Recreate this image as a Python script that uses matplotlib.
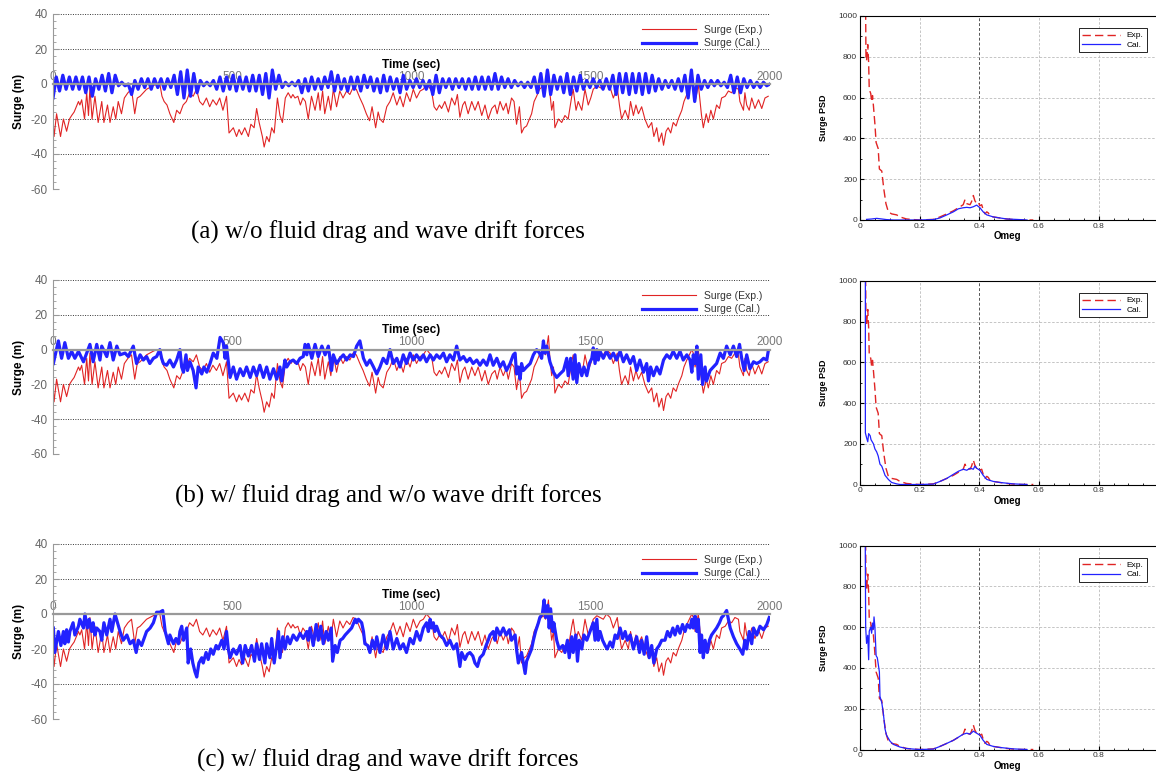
import numpy as np
import matplotlib.pyplot as plt
from matplotlib.ticker import MultipleLocator

plt.rcParams['font.family'] = ['Liberation Sans', 'DejaVu Sans']
plt.rcParams['axes.unicode_minus'] = False

# Surge (Exp.) time history (same in all three cases): (time [s], surge [m])
exp_pts = [(0,-20),(3,-30),(10,-17),(21,-30),(29,-20),(38,-27),(46,-20),(52,-18),(59,-16),(71,-10),
           (75,-12),(80,-9),(88,-20),(94,-5),(99,-18),(103,-2),(109,-20),(117,-7),(126,-22),(136,-10),
           (142,-22),(152,-12),(159,-22),(168,-13),(175,-20),(182,-10),(191,-17),(199,-8),(209,-5),(219,-3),
           (228,-17),(235,-8),(243,-7),(252,-5),(261,-3),(270,-2),(279,-1),(289,0),(298,0),(304,-7),
           (310,-10),(318,-12),(326,-17),(337,-22),(345,-15),(354,-17),(363,-12),(372,-10),(381,-5),(391,-7),
           (400,-3),(409,-10),(418,-12),(428,-8),(437,-13),(446,-9),(456,-12),(465,-8),(474,-15),(484,-7),
           (491,-28),(503,-25),(512,-30),(519,-26),(526,-29),(535,-25),(545,-30),(552,-23),(561,-25),(568,-14),
           (575,-22),(584,-30),(589,-36),(596,-30),(603,-33),(610,-25),(617,-28),(626,-8),(633,-18),(640,-22),
           (648,-8),(656,-5),(664,-8),(669,-6),(675,-8),(683,-7),(690,-12),(697,-8),(704,-10),(712,-20),
           (721,-7),(731,-15),(740,-5),(745,-15),(752,-4),(758,-17),(768,-7),(775,-15),(782,-3),(791,-13),
           (800,-4),(809,-8),(819,-4),(828,-6),(837,-2),(846,-3),(856,-8),(865,-12),(874,-17),(883,-21),
           (890,-13),(900,-25),(907,-16),(912,-20),(921,-22),(931,-13),(940,-10),(949,-5),(959,-12),(968,-7),
           (977,-13),(986,-5),(996,-10),(1005,-3),(1014,-8),(1024,-4),(1033,-3),(1042,0),(1050,-2),(1056,-4),
           (1063,-13),(1070,-15),(1078,-12),(1084,-14),(1093,-10),(1103,-16),(1112,-8),(1121,-12),(1128,-6),(1135,-19),
           (1143,-12),(1149,-10),(1158,-17),(1168,-10),(1177,-15),(1186,-10),(1196,-18),(1205,-12),(1214,-20),(1224,-14),
           (1233,-12),(1239,-17),(1247,-10),(1256,-15),(1264,-11),(1270,-17),(1279,-8),(1286,-10),(1293,-23),(1301,-13),
           (1307,-28),(1314,-25),(1321,-24),(1329,-20),(1335,-17),(1342,-10),(1349,-7),(1357,-3),(1368,-1),(1374,-3),
           (1382,8),(1386,-5),(1391,-15),(1396,-10),(1400,-25),(1410,-20),(1419,-22),(1428,-18),(1437,-20),(1447,-7),
           (1451,-3),(1459,-15),(1465,-10),(1475,-15),(1484,-3),(1493,-12),(1500,-8),(1507,-3),(1517,-1),(1526,-2),
           (1535,-3),(1544,0),(1554,-2),(1563,-8),(1574,-2),(1580,-12),(1586,-20),(1596,-15),(1605,-20),(1611,-10),
           (1619,-18),(1626,-12),(1633,-17),(1642,-13),(1651,-20),(1661,-25),(1670,-22),(1676,-30),(1684,-25),(1690,-33),
           (1698,-28),(1703,-35),(1710,-27),(1716,-25),(1723,-28),(1730,-22),(1738,-24),(1744,-20),(1754,-15),(1760,-10),
           (1768,-6),(1775,-3),(1782,0),(1786,-2),(1791,-10),(1796,-5),(1800,0),(1805,-10),(1809,-18),(1814,-25),
           (1822,-17),(1828,-22),(1835,-15),(1842,-20),(1851,-12),(1859,-14),(1865,-8),(1875,-7),(1884,-4),(1893,-5),
           (1902,-2),(1912,-3),(1916,-10),(1926,-15),(1930,-5),(1935,-12),(1942,-15),(1949,-8),(1958,-14),(1968,-9),
           (1977,-14),(1986,-8),(1995,-7)]

# Surge (Cal.) case (a): samples evenly spread over 0-2000 s
cal_a = [-8,4,-4,5,-3,4,-3,4,-3,4,  -5,4,-7,3,-3,5,-4,6,-5,5,
         -1,1,-1,0,-6,2,-3,3,-2,3,  -3,3,-2,3,-3,3,-2,5,-6,7,
         -8,8,-7,6,-5,2,-1,1,-1,2,  -3,4,-4,4,-3,5,-4,4,-3,4,
         -4,5,-4,5,-6,6,-8,8,-3,5,  -2,1,-1,1,-1,2,-5,3,-4,4,
         -3,3,-3,4,-2,7,-4,5,-3,3,  -4,4,-3,4,-4,5,-2,4,-4,3,
         -5,5,-4,4,-3,3,-5,5,-3,2,  -2,3,-2,2,-3,2,-6,5,-5,3,
         -2,3,-3,3,-2,3,-3,3,-3,4,  -3,4,-3,4,-3,6,-3,4,-2,3,
         -2,2,-1,1,-2,1,-2,4,-5,6,  -7,8,-6,5,-3,4,-5,6,-6,4,
         -4,5,-3,2,-2,3,-2,2,-3,3,  -3,5,-6,6,-5,6,-6,6,-5,6,
         -6,6,-5,5,-4,3,-3,2,-2,2,  -3,3,-4,5,-8,8,-10,5,-3,2,
         -2,2,-1,2,-1,1,-2,5,-5,4,  -5,3,-2,2,-2,1,-2,1,-1,0]

# Surge (Cal.) case (b): (time [s], surge [m])
cal_b_pts = [(1,-8),(15,5),(24,-5),(33,4),(43,-5),(52,-1),(61,-5),(71,-1),(85,-7),(94,-2),(103,3),(112,-7),
             (122,3),(131,-6),(136,2),(150,-4),(159,4),(168,-6),(178,2),(187,-3),(201,-2),(210,-4),(224,2),
             (233,-8),(243,-3),(252,-6),(261,-4),(270,-8),(280,-5),(289,-4),(298,0),(303,-5),(308,-8),(317,-9),
             (326,-6),(336,-10),(345,-6),(354,0),(359,-10),(364,-13),(371,-3),(375,-12),(382,-7),(391,-12),
             (399,-22),(405,-10),(415,-14),(421,-10),(429,-13),(438,-8),(447,-2),(457,-5),(466,7),(475,4),
             (480,-5),(484,2),(494,-16),(503,-10),(512,-17),(522,-11),(531,-15),(540,-10),(550,-16),(559,-10),
             (568,-15),(577,-9),(587,-16),(596,-10),(605,-17),(615,-11),(624,-17),(633,-10),(638,-18),(647,-6),
             (652,-10),(661,-7),(670,-6),(680,-8),(689,-5),(698,-4),(703,3),(708,-3),(712,3),(722,-5),(731,3),
             (740,-4),(750,2),(759,-3),(768,2),(777,-12),(782,-3),(791,-8),(801,-5),(810,-3),(819,-6),(829,-3),
             (838,-4),(847,2),(856,5),(866,-5),(875,-9),(884,-6),(894,-10),(903,-14),(912,-10),(921,-5),(931,-8),
             (940,0),(949,-8),(959,-5),(968,-10),(977,-3),(986,-8),(996,-2),(1005,-6),(1014,-3),(1024,-6),
             (1033,-3),(1042,-7),(1052,-3),(1061,-6),(1070,-3),(1079,-5),(1089,-2),(1098,-7),(1107,-3),(1117,-6),
             (1126,2),(1135,-6),(1145,-4),(1154,-7),(1163,-5),(1172,-8),(1182,-6),(1191,-9),(1200,-6),(1210,-9),
             (1219,-3),(1228,-9),(1238,-5),(1247,-10),(1256,-7),(1265,-12),(1275,-8),(1284,-3),(1289,-2),(1293,-14),
             (1298,-10),(1303,-17),(1307,-8),(1312,-12),(1321,-10),(1331,-8),(1340,-3),(1349,0),(1357,-2),(1363,-5),
             (1368,5),(1372,-2),(1377,2),(1382,-3),(1386,-7),(1396,-13),(1405,-16),(1414,-14),(1424,-12),(1433,-5),
             (1437,-15),(1444,-5),(1451,-17),(1456,-3),(1461,-19),(1467,-8),(1475,-15),(1481,-10),(1489,-15),
             (1496,-8),(1503,-5),(1507,1),(1512,-8),(1517,0),(1521,-6),(1526,-1),(1535,-5),(1544,-1),(1554,-5),
             (1563,-2),(1572,-6),(1582,-1),(1591,-7),(1600,-3),(1610,-8),(1619,-4),(1628,-12),(1637,-6),(1647,-13),
             (1656,-8),(1661,-18),(1667,-10),(1675,-15),(1684,-10),(1693,-14),(1703,-6),(1712,-3),(1721,-5),
             (1730,-1),(1740,-5),(1749,-1),(1758,-6),(1768,-3),(1777,-6),(1782,-13),(1786,-3),(1791,-8),(1796,2),
             (1800,-17),(1807,-3),(1812,-20),(1819,-10),(1823,-18),(1833,-12),(1842,-10),(1851,-8),(1861,-2),
             (1870,-5),(1879,2),(1889,-3),(1898,2),(1907,-4),(1915,3),(1921,-5),(1928,-12),(1935,-3),(1944,-11),
             (1954,-7),(1963,-8),(1972,-7),(1982,-5),(1991,-6),(1995,-1)]

# Surge (Cal.) case (c): (time [s], surge [m])
cal_c_pts = [(1,-8),(5,-22),(15,-10),(22,-18),(29,-10),(33,-17),(38,-9),(43,-16),(47,-10),(56,-5),(61,-12),
             (71,-7),(75,-3),(85,-8),(89,0),(96,-8),(101,-3),(108,-10),(112,-5),(117,-12),(122,-8),(131,-10),
             (136,-15),(142,-5),(150,-12),(159,-3),(164,-10),(173,0),(180,-5),(187,-10),(196,-15),(206,-12),
             (215,-17),(224,-15),(232,-22),(238,-15),(247,-18),(254,-14),(261,-10),(271,-8),(280,-5),(289,1),
             (298,1),(306,2),(313,-10),(322,-17),(326,-12),(336,-17),(343,-14),(350,-17),(354,-10),(359,-7),
             (364,-15),(373,-8),(377,-28),(384,-20),(390,-28),(396,-33),(401,-36),(407,-28),(415,-25),(419,-28),
             (427,-22),(433,-26),(440,-20),(447,-23),(455,-18),(461,-20),(471,-15),(477,-20),(484,-10),(489,-20),
             (494,-25),(503,-20),(512,-23),(522,-18),(529,-28),(536,-18),(545,-24),(554,-18),(562,-27),(568,-17),
             (576,-26),(582,-17),(591,-28),(596,-17),(605,-25),(610,-14),(617,-28),(624,-18),(629,-10),(633,-25),
             (641,-13),(647,-20),(654,-13),(661,-17),(670,-12),(680,-15),(689,-11),(698,-14),(708,-10),(712,-15),
             (717,-8),(726,-18),(734,-6),(740,-15),(747,-7),(754,-17),(762,-10),(768,-15),(776,-8),(780,-27),
             (787,-18),(793,-22),(801,-15),(808,-14),(815,-12),(824,-10),(833,-8),(843,-3),(847,-5),(852,-3),
             (861,-5),(866,-10),(870,-17),(878,-18),(884,-22),(891,-15),(898,-20),(903,-13),(912,-22),(921,-12),
             (931,-20),(940,-10),(949,-20),(959,-14),(968,-20),(977,-17),(986,-22),(996,-14),(1005,-17),(1014,-10),
             (1024,-15),(1033,-8),(1042,-5),(1047,-10),(1052,-3),(1056,-8),(1061,-5),(1065,-10),(1070,-7),(1079,-12),
             (1089,-14),(1098,-18),(1107,-15),(1117,-20),(1126,-17),(1135,-30),(1140,-22),(1149,-26),(1156,-23),
             (1163,-22),(1171,-24),(1177,-28),(1184,-30),(1191,-25),(1200,-23),(1208,-18),(1214,-15),(1219,-12),
             (1228,-10),(1233,-15),(1238,-8),(1247,-12),(1256,-8),(1264,-12),(1273,-9),(1279,-15),(1289,-12),
             (1293,-20),(1298,-28),(1307,-22),(1317,-34),(1321,-27),(1329,-23),(1335,-20),(1340,-15),(1346,-10),
             (1354,-5),(1358,-2),(1365,0),(1370,8),(1374,-2),(1380,5),(1384,-8),(1388,3),(1394,-10),(1397,-5),
             (1405,-15),(1412,-20),(1422,-18),(1428,-22),(1435,-15),(1440,-25),(1447,-13),(1451,-22),(1458,-12),
             (1463,-27),(1468,-15),(1475,-20),(1481,-12),(1489,-15),(1498,-10),(1507,-5),(1512,-15),(1517,-3),
             (1521,-15),(1526,-10),(1533,-15),(1540,-18),(1546,-20),(1554,-16),(1561,-19),(1568,-12),(1574,-14),
             (1582,-8),(1589,-14),(1596,-10),(1602,-15),(1610,-12),(1619,-20),(1628,-13),(1636,-22),(1642,-15),
             (1649,-23),(1656,-13),(1663,-25),(1670,-18),(1676,-28),(1684,-20),(1691,-18),(1698,-15),(1707,-15),
             (1714,-10),(1721,-13),(1729,-8),(1735,-12),(1742,-7),(1749,-11),(1756,-6),(1763,-10),(1769,-6),
             (1777,-8),(1782,-3),(1786,-8),(1791,-1),(1796,-10),(1800,-3),(1805,-22),(1809,-12),(1814,-25),
             (1819,-15),(1825,-22),(1831,-15),(1837,-12),(1844,-10),(1851,-8),(1859,-5),(1865,-2),(1870,-1),
             (1879,2),(1884,-3),(1889,-8),(1898,-13),(1907,-17),(1916,-20),(1924,-23),(1930,-15),(1935,-20),
             (1942,-10),(1949,-17),(1954,-8),(1963,-12),(1972,-7),(1982,-9),(1991,-6),(1998,-2)]

# Surge PSD: (Omeg, PSD)
psd_exp = [(0.018,1200),(0.020,800),(0.022,780),(0.026,860),(0.029,770),(0.031,640),(0.036,620),(0.039,580),
           (0.042,610),(0.045,560),(0.050,470),(0.054,380),(0.061,350),(0.065,250),(0.073,240),(0.076,200),
           (0.080,150),(0.087,80),(0.095,40),(0.106,30),(0.123,25),(0.134,15),(0.156,5),(0.179,2),(0.201,0),
           (0.246,3),(0.268,15),(0.291,30),(0.313,45),(0.330,60),(0.346,75),(0.352,100),(0.358,80),(0.369,75),
           (0.374,90),(0.380,120),(0.385,95),(0.391,80),(0.397,85),(0.402,70),(0.408,75),(0.413,50),(0.419,30),
           (0.425,40),(0.430,35),(0.436,20),(0.447,15),(0.469,10),(0.492,5),(0.514,2),(0.536,0),(0.581,0)]
psd_cal_a = [(0.022,3),(0.039,5),(0.056,8),(0.073,5),(0.089,2),(0.112,0),(0.200,0),(0.246,2),(0.268,10),
             (0.291,25),(0.313,40),(0.330,55),(0.346,60),(0.358,62),(0.369,60),(0.380,65),(0.391,73),(0.402,60),
             (0.413,40),(0.425,25),(0.447,15),(0.469,10),(0.492,5),(0.536,2),(0.560,0)]
psd_cal_b = [(0.018,1200),(0.018,254),(0.022,230),(0.026,210),(0.029,250),(0.034,240),(0.037,220),(0.045,200),
             (0.050,175),(0.056,160),(0.061,140),(0.067,100),(0.073,90),(0.078,70),(0.084,45),(0.095,25),
             (0.106,10),(0.123,3),(0.134,0),(0.200,0),(0.246,2),(0.268,15),(0.291,30),(0.313,50),(0.330,65),
             (0.346,75),(0.358,70),(0.369,80),(0.380,75),(0.385,90),(0.391,80),(0.402,70),(0.413,45),(0.425,25),
             (0.436,20),(0.447,15),(0.469,10),(0.514,3),(0.560,0)]
psd_cal_c = [(0.017,1200),(0.019,600),(0.022,520),(0.026,560),(0.029,440),(0.031,580),(0.036,600),(0.039,570),
             (0.042,620),(0.045,590),(0.047,650),(0.050,600),(0.054,460),(0.058,450),(0.061,420),(0.065,380),
             (0.067,260),(0.073,230),(0.078,180),(0.084,100),(0.089,70),(0.101,40),(0.112,25),(0.134,12),
             (0.156,5),(0.179,2),(0.201,0),(0.246,2),(0.268,15),(0.291,30),(0.313,45),(0.335,65),(0.346,75),
             (0.358,80),(0.369,75),(0.380,90),(0.391,80),(0.402,70),(0.413,45),(0.425,25),(0.447,15),(0.469,10),
             (0.514,3),(0.560,0)]

captions = ['(a) w/o fluid drag and wave drift forces',
            '(b) w/ fluid drag and w/o wave drift forces',
            '(c) w/ fluid drag and wave drift forces']

t_a = np.linspace(0, 2000, len(cal_a))
cal_series = [(t_a, np.array(cal_a)),
              tuple(np.array(c) for c in zip(*cal_b_pts)),
              tuple(np.array(c) for c in zip(*cal_c_pts))]
psd_cal = [psd_cal_a, psd_cal_b, psd_cal_c]
exp_t, exp_v = zip(*exp_pts)
w_exp, p_exp = zip(*psd_exp)

fig = plt.figure(figsize=(11.56, 7.72), dpi=100)
W, H = 1156, 772

# pixel layout of each row: time-series top/bottom, psd top/bottom, caption y
rows = [(14, 189, 16, 220, 232), (280, 454, 281, 484.5, 496), (544, 719, 545.5, 749.5, 760)]

red = '#e02424'
blue = '#2222ff'

for i, (ttop, tbot, ptop, pbot, cy) in enumerate(rows):
    # ---- time history
    ax = fig.add_axes([53 / W, 1 - tbot / H, 717 / W, (tbot - ttop) / H])
    ax.plot(exp_t, exp_v, color=red, lw=0.8, label='Surge (Exp.)')
    tc, vc = cal_series[i]
    ax.plot(tc, vc, color=blue, lw=2.3, label='Surge (Cal.)')
    ax.set_xlim(0, 2000)
    ax.set_ylim(-60, 40)
    ax.set_yticks(range(-60, 41, 20))
    ax.yaxis.set_minor_locator(MultipleLocator(4))
    ax.set_xticks(range(0, 2001, 500))
    ax.spines['top'].set_position(('data', 0))
    ax.spines['top'].set_color('#999999')
    ax.spines['top'].set_linewidth(1.6)
    ax.spines['left'].set_color('#999999')
    ax.spines['bottom'].set_visible(False)
    ax.spines['right'].set_visible(False)
    ax.xaxis.tick_top()
    ax.xaxis.set_label_position('top')
    ax.tick_params(axis='x', direction='in', length=0, pad=1, labelsize=8.5, labelcolor='#777777')
    ax.tick_params(axis='y', which='major', direction='in', length=4, color='#999999',
                   labelsize=8.5, labelcolor='#666666', pad=4)
    ax.tick_params(axis='y', which='minor', direction='in', length=2, color='#999999')
    ax.set_xlabel('Time (sec)', fontsize=8.5, fontweight='bold', labelpad=2)
    ax.set_ylabel('Surge (m)', fontsize=8.5, fontweight='bold', labelpad=4)
    ax.yaxis.grid(True, linestyle=(0, (1, 1.5)), color='#333333', lw=0.7)
    ax.set_axisbelow(True)
    ax.legend(loc='upper right', bbox_to_anchor=(1.0, 0.98), frameon=False, fontsize=7.5,
              handlelength=5.2, labelspacing=0.35, borderpad=0.2, labelcolor='#333333')

    # ---- PSD
    ap = fig.add_axes([860 / W, 1 - pbot / H, 295.3 / W, (pbot - ptop) / H])
    ap.plot(w_exp, p_exp, color=red, lw=1.0, dashes=(6, 3), label='Exp.')
    wc, pc = zip(*psd_cal[i])
    ap.plot(wc, pc, color=blue, lw=0.9, label='Cal.')
    ap.set_xlim(0, 0.99)
    ap.set_ylim(0, 1000)
    ap.set_xticks([0, 0.2, 0.4, 0.6, 0.8])
    ap.set_xticklabels(['0', '0.2', '0.4', '0.6', '0.8'])
    ap.set_yticks(range(0, 1001, 200))
    ap.xaxis.set_minor_locator(MultipleLocator(0.05))
    ap.yaxis.set_minor_locator(MultipleLocator(100))
    ap.tick_params(which='major', direction='in', length=3, labelsize=6, pad=2, labelcolor='#333333')
    ap.tick_params(which='minor', direction='in', length=1.5)
    for x in (0.2, 0.6, 0.8):
        ap.axvline(x, color='#bbbbbb', lw=0.6, dashes=(3, 2), zorder=0)
    ap.axvline(0.4, color='#555555', lw=0.7, dashes=(3, 2), zorder=0)
    for y in (200, 400, 600, 800):
        ap.axhline(y, color='#bbbbbb', lw=0.6, dashes=(3, 2), zorder=0)
    ap.spines['right'].set_visible(False)
    for s in ('left', 'bottom', 'top'):
        ap.spines[s].set_linewidth(0.8)
    ap.set_xlabel('Omeg', fontsize=7, fontweight='bold', labelpad=1)
    ap.set_ylabel('Surge PSD', fontsize=6.5, fontweight='bold', labelpad=7)
    leg = ap.legend(loc='upper right', bbox_to_anchor=(0.985, 0.96), fontsize=6, fancybox=False,
                    edgecolor='black', framealpha=1, handlelength=4.5, borderpad=0.4, labelspacing=0.2)
    leg.get_frame().set_linewidth(0.6)

    # ---- caption
    fig.text(388 / W, 1 - cy / H, captions[i], ha='center', va='center',
             fontsize=18, family=['Liberation Serif', 'DejaVu Serif'])

fig.savefig('out.png', dpi=100)
